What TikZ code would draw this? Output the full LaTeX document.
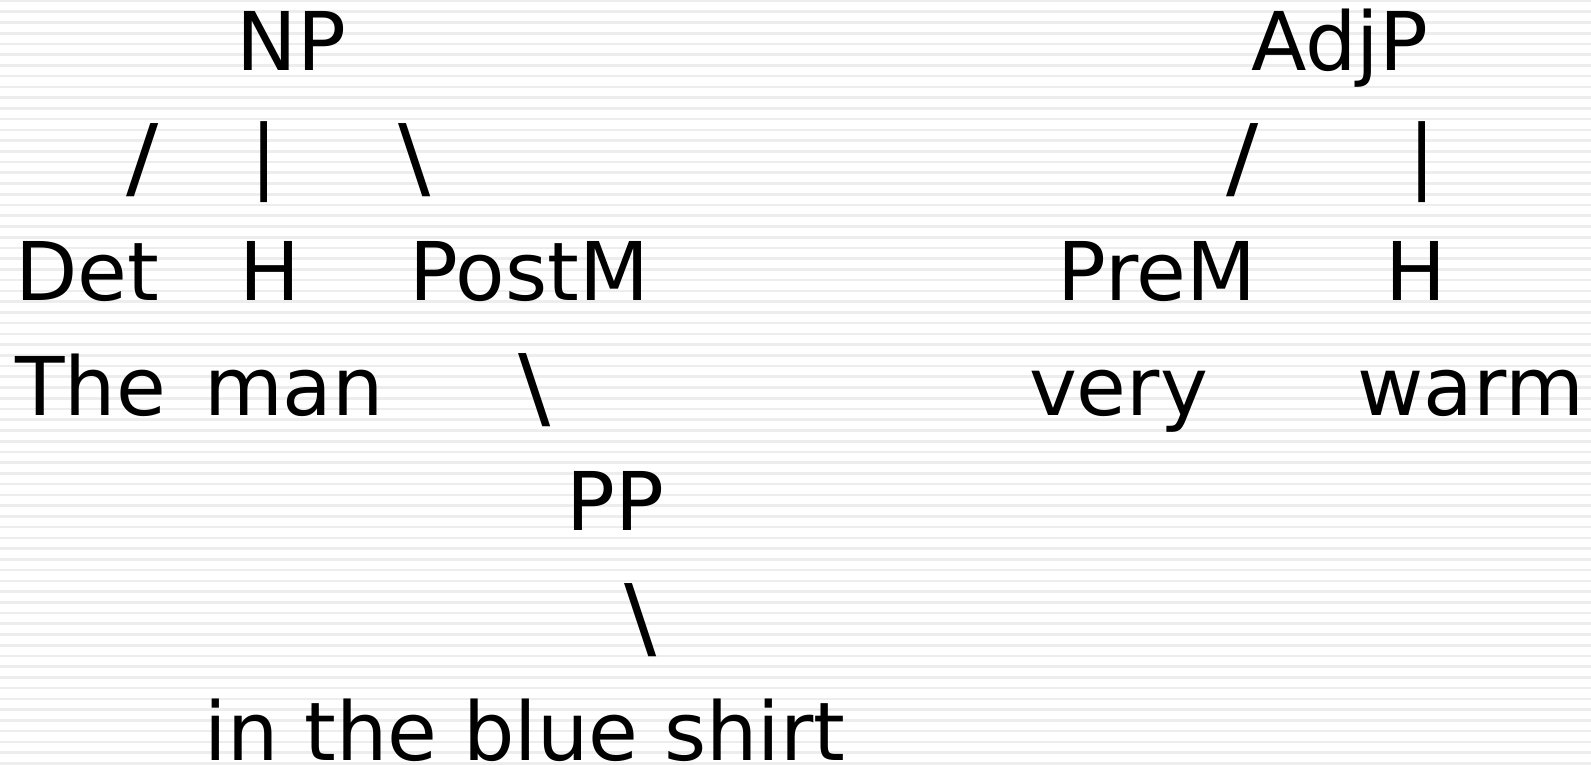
\documentclass[tikz,border=0pt]{standalone}
\usepackage{fontspec}
\usepackage{graphicx}
\setmainfont{DejaVu Sans}
\tikzset{
  lbl/.style={inner sep=0pt, outer sep=0pt, font=\fontsize{81}{97}\selectfont, anchor=base},
  brk/.style={inner sep=0pt, outer sep=0pt, font=\fontsize{81}{97}\selectfont, anchor=center},
  stripe/.style={draw=gray!14, line width=2.6pt}
}
\newcommand{\fsl}{\scalebox{1.18}[1.1]{/}}
\newcommand{\bsl}{\scalebox{1.18}[1.1]{\textbackslash}}
\begin{document}
\begin{tikzpicture}[x=1pt,y=-1pt]
\fill[white] (0,0) rectangle (1591,765);
\useasboundingbox (0,0) rectangle (1591,765);
\foreach \i in {0,...,71} {
  \draw[stripe] (0,{1+10.737*\i}) -- (1591,{1+10.737*\i});
}
% row 1
\node[lbl] (np) at (291.7,70.7) {NP};
\node[lbl] (adjp) at (1339.9,70.7) {AdjP};
% row 2
\node[brk] (s1) at (142.5,160.5) {\fsl};
\node[brk] (s2) at (264.5,162.3) {\textbar};
\node[brk] (s3) at (415,160.5) {\bsl};
\node[brk] (s4) at (1242.5,160.5) {\fsl};
\node[brk] (s5) at (1421.7,162.3) {\textbar};
% row 3
\node[lbl] (det) at (87.3,300.7) {Det};
\node[lbl] (h1) at (269.7,300.7) {H};
\node[lbl] (postm) at (529.5,300.7) {PostM};
\node[lbl] (prem) at (1157,300.7) {PreM};
\node[lbl] (h2) at (1416,300.7) {H};
% row 4
\node[lbl] (the) at (90.8,415.7) {The};
\node[lbl] (man) at (294,415.7) {man};
\node[brk] (s6) at (535,390.5) {\bsl};
\node[lbl] (very) at (1118.5,415.7) {very};
\node[lbl] (warm) at (1470.5,415.7) {warm};
% row 5
\node[lbl] (pp) at (615.8,530.7) {PP};
% row 6
\node[brk] (s7) at (640.8,620.5) {\bsl};
% row 7
\node[lbl] (shirt) at (525,760.7) {in the blue shirt};
\end{tikzpicture}
\end{document}
